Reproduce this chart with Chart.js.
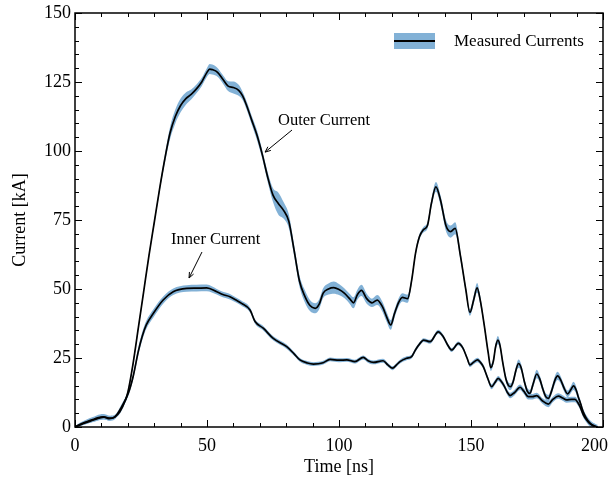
<!DOCTYPE html>
<html>
<head>
<meta charset="utf-8">
<script src="https://cdn.jsdelivr.net/npm/chart.js@4"></script>
<style>
  html, body { margin: 0; padding: 0; background: #fff; }
  #wrap { width: 613px; height: 485px; }
</style>
</head>
<body>
<div id="wrap"><canvas id="currentChart" width="613" height="485"></canvas></div>
<script>
// Outer current: time [ns], value [kA], band half-width [kA]
const outerTime = [
  0, 3, 6, 9, 11, 13, 15, 17, 19, 20,
  22, 24, 26, 28, 30, 32, 34, 36, 38, 40,
  42, 44, 46, 48, 50, 51, 52, 54, 56, 58,
  60, 62, 63.5, 65, 67, 69, 71, 73, 75, 77,
  79, 81, 83, 85, 87, 89, 91, 92.5, 94, 96,
  98, 100, 102, 104, 105.5, 107, 108.5, 110.5, 112.5, 114.5,
  116.5, 118, 119.6, 121, 122.5, 124, 126, 127.5, 129, 130.5,
  132, 133.5, 135, 136.7, 138.5, 140.5, 142.3, 144, 146, 148,
  149.6, 151, 152.3, 153.5, 155, 156.5, 157.5, 158.5, 159.3, 160.2,
  161, 162, 163.2, 164.2, 165, 166, 167, 168, 169, 170.2,
  171.3, 172.3, 173.5, 174.9, 176, 177.3, 178.3, 179.3, 180.5, 181.8,
  182.8, 184, 185.3, 186.6, 187.8, 188.8, 189.8, 190.6, 191.5, 192.5,
  193.5, 195, 197.5];
const outerValue = [
  0, 1.2, 2.2, 3.2, 3.6, 3.0, 3.6, 5.5, 9.5, 12.5,
  23, 36, 49, 62, 74, 86, 97, 106.5, 112.5, 116.5,
  119, 120.5, 122.5, 125, 128.5, 129.7, 129.5, 128.5, 126, 123.5,
  123, 122, 120, 116.5, 111, 105.5, 98.5, 90.5, 84, 81,
  78.5, 74.5, 64, 53, 47.5, 44, 43, 44.5, 48.5, 50,
  50.5, 49.8, 48.5, 46.5, 45, 48, 49.5, 46.5, 45, 46,
  43.5, 40, 37, 41, 45, 47, 46.5, 53, 63, 69,
  71.5, 73, 81, 87, 82, 73, 70.8, 72, 62, 50,
  41.5, 46, 50.4, 46, 37, 27, 21.5, 24, 29, 31.5,
  29.5, 23.5, 17.5, 15, 14.6, 16.5, 20.5, 23, 21.5, 16.5,
  13, 12.2, 15.5, 19.2, 17.5, 13.5, 11, 10.4, 13, 17,
  18.5, 17, 14, 12, 13.5, 14.9, 13.5, 11, 8.5, 5.5,
  3.5, 1.5, 0];
const outerErr = [
  0.3, 0.5, 0.6, 0.7, 0.8, 0.7, 0.6, 0.7, 0.8, 0.8,
  0.8, 0.8, 0.8, 0.8, 0.8, 1, 1.5, 2.2, 2.5, 2.5,
  2.2, 1.8, 1.6, 1.5, 1.6, 1.8, 1.8, 1.6, 1.5, 1.8,
  2.2, 2, 1.5, 1.5, 1.6, 1.8, 1.6, 1.8, 2.5, 4,
  3, 2.5, 2, 2, 2.2, 2, 1.8, 1.8, 1.8, 2,
  2.2, 2, 1.8, 1.8, 2, 1.8, 2, 1.8, 1.5, 1.8,
  1.8, 1.8, 1.8, 1.5, 1.5, 1.5, 1.5, 1.2, 1, 1,
  1, 1.2, 1.5, 1.8, 1.8, 2, 2.2, 2.2, 1.5, 1.2,
  1.2, 1.5, 1.8, 1.5, 1.2, 1.2, 1.2, 1.2, 1.3, 1.5,
  1.3, 1.2, 1.2, 1.2, 1.2, 1.2, 1.3, 1.5, 1.3, 1.2,
  1.2, 1.2, 1.3, 1.5, 1.3, 1.2, 1.2, 1.2, 1.3, 1.5,
  1.5, 1.3, 1.2, 1.2, 1.3, 1.5, 1.3, 1.2, 1, 1,
  1, 1, 0.8];

// Inner current: time [ns], value [kA], band half-width [kA]
const innerTime = [
  0, 2, 4.4, 6.5, 8.2, 10.7, 13.3, 15.2, 17.7, 20.2,
  22, 24, 25.5, 27, 29.7, 33.4, 37.2, 42.3, 46, 49.9,
  53.7, 56, 58.7, 61, 63.1, 66.3, 68.2, 71.3, 75.1, 80.2,
  83, 85.2, 88, 90.3, 94, 96.6, 100, 103, 106, 109.2,
  111, 113, 116.7, 118.5, 120.3, 121.8, 123.1, 125.6, 127.5, 129,
  130.7, 132, 134.5, 137.6, 139.5, 141, 142.7, 145.2, 147, 148.5,
  149.6, 151, 152.5, 153.5, 154.7, 156.2, 157.8, 159, 160.3, 161.5,
  162.5, 163.8, 164.8, 166.5, 168.6, 170, 171.7, 173.3, 174.9, 177,
  179.3, 181, 183.1, 184.7, 186.2, 188, 189.4, 190.5, 191.3, 192.5,
  193.8, 195, 196.3, 198];
const innerValue = [
  0, 1, 1.9, 2.6, 3.2, 3.7, 3.2, 3.7, 7.4, 12.2,
  18.2, 27.5, 33, 37, 41.2, 46, 49, 50.2, 50.3, 50.4,
  49, 48, 47.2, 46, 44.8, 42.4, 38.2, 35.8, 32.1, 29.1,
  26.5, 24.3, 23.2, 22.8, 23.3, 24.5, 24.2, 24.3, 23.7, 25.2,
  24, 23.4, 24, 22.5, 21.3, 22.5, 23.7, 24.9, 25.5, 28,
  30.3, 31.5, 30.9, 34.5, 32.7, 30, 27.9, 30.3, 28.5, 25,
  22.5, 23.5, 24.3, 23.5, 21.8, 18, 14.6, 16, 17.6, 16.5,
  15, 12.5, 11.4, 12.5, 14.4, 13, 11, 11, 11.4, 9.5,
  8.3, 10, 11.2, 10.5, 9.8, 10, 10, 8.8, 7.4, 4.5,
  2.5, 1.2, 0.4, 0];
const innerErr = [
  0.3, 0.6, 0.8, 0.9, 1, 1, 0.9, 0.8, 0.9, 1,
  1.2, 1.5, 1.5, 1.5, 1.5, 1.3, 1.2, 1.2, 1.2, 1.2,
  1, 1, 1, 0.9, 0.9, 0.9, 0.8, 0.8, 0.8, 0.8,
  0.7, 0.7, 0.7, 0.7, 0.7, 0.7, 0.7, 0.7, 0.7, 0.7,
  0.7, 0.7, 0.7, 0.7, 0.7, 0.7, 0.7, 0.7, 0.7, 0.7,
  0.7, 0.7, 0.7, 0.7, 0.7, 0.7, 0.7, 0.7, 0.7, 0.7,
  0.8, 0.8, 0.8, 0.8, 0.8, 0.8, 0.9, 0.9, 0.9, 0.9,
  0.9, 1, 1, 1, 1, 1, 1, 1, 1, 1,
  1.1, 1, 1, 1, 1, 1, 1, 1, 1, 1,
  1, 1, 1, 0.8];

const xTicks = [0, 50, 100, 150, 200];
const yTicks = [0, 25, 50, 75, 100, 125, 150];

const bandColor = '#82b1d6';
const serif = '"Liberation Serif", "DejaVu Serif", serif';

function points(times, values, errs, sign) {
  return times.map((t, i) => ({x: t, y: values[i] + sign * errs[i]}));
}

// Inward ticks on all four sides, the frame and the x tick labels
const frameTicks = {
  id: 'frameTicks',
  afterDraw(chart) {
    const {ctx, chartArea: a, scales: {x, y}} = chart;
    ctx.save();
    ctx.strokeStyle = '#000';
    ctx.lineWidth = 1;
    ctx.beginPath();
    for (let v = 0; v <= 200; v += 10) {
      const px = Math.round(x.getPixelForValue(v)) + 0.5;
      const len = v % 50 === 0 ? 7 : 4;
      ctx.moveTo(px, a.bottom); ctx.lineTo(px, a.bottom - len);
      ctx.moveTo(px, a.top); ctx.lineTo(px, a.top + len);
    }
    for (let v = 0; v <= 150; v += 5) {
      const py = Math.round(y.getPixelForValue(v)) + 0.5;
      const len = v % 25 === 0 ? 7 : 4;
      ctx.moveTo(a.left, py); ctx.lineTo(a.left + len, py);
      ctx.moveTo(a.right, py); ctx.lineTo(a.right - len, py);
    }
    ctx.stroke();
    ctx.lineWidth = 1.5;
    ctx.strokeRect(a.left, a.top, a.right - a.left, a.bottom - a.top);

    // x labels, the last one kept inside the canvas
    ctx.fillStyle = '#000';
    ctx.font = '18px ' + serif;
    ctx.textAlign = 'center';
    ctx.textBaseline = 'middle';
    xTicks.forEach(v => {
      const s = String(v);
      const w = ctx.measureText(s).width;
      const px = Math.min(x.getPixelForValue(v), chart.width - 5 - w / 2);
      ctx.fillText(s, px, a.bottom + 19);
    });
    ctx.restore();
  }
};

// Legend box and arrow annotations
const notes = {
  id: 'notes',
  afterDraw(chart) {
    const {ctx, chartArea: a, scales: {x, y}} = chart;
    ctx.save();
    const lx = a.right - 209, ly = a.top + 28;
    ctx.fillStyle = bandColor;
    ctx.fillRect(lx, ly - 8, 41, 16);
    ctx.strokeStyle = '#000';
    ctx.lineWidth = 2;
    ctx.beginPath();
    ctx.moveTo(lx, ly); ctx.lineTo(lx + 41, ly);
    ctx.stroke();
    ctx.fillStyle = '#000';
    ctx.font = '17px ' + serif;
    ctx.textBaseline = 'middle';
    ctx.fillText('Measured Currents', lx + 60, ly + 1);

    function arrow(x1, y1, x2, y2) {
      const p1 = [x.getPixelForValue(x1), y.getPixelForValue(y1)];
      const p2 = [x.getPixelForValue(x2), y.getPixelForValue(y2)];
      const ang = Math.atan2(p2[1] - p1[1], p2[0] - p1[0]);
      ctx.lineWidth = 1;
      ctx.beginPath();
      ctx.moveTo(p1[0], p1[1]); ctx.lineTo(p2[0], p2[1]);
      ctx.stroke();
      ctx.beginPath();
      ctx.moveTo(p2[0] - 6 * Math.cos(ang - 0.4), p2[1] - 6 * Math.sin(ang - 0.4));
      ctx.lineTo(p2[0], p2[1]);
      ctx.lineTo(p2[0] - 6 * Math.cos(ang + 0.4), p2[1] - 6 * Math.sin(ang + 0.4));
      ctx.stroke();
    }
    ctx.font = '16.5px ' + serif;
    ctx.fillText('Outer Current', x.getPixelForValue(76.9), y.getPixelForValue(110.9));
    arrow(82.2, 107.6, 72, 99.6);
    ctx.fillText('Inner Current', x.getPixelForValue(36.4), y.getPixelForValue(67.8));
    arrow(48.1, 63.4, 43.2, 54);
    ctx.restore();
  }
};

function noPad(scale) {
  scale.paddingLeft = 0;
  scale.paddingRight = 0;
  scale.paddingTop = 0;
  scale.paddingBottom = 0;
}

const ctx = document.getElementById('currentChart').getContext('2d');

new Chart(ctx, {
  type: 'line',
  data: {
    datasets: [
      {
        label: 'Outer Current',
        data: points(outerTime, outerValue, outerErr, 0),
        borderColor: '#000', borderWidth: 1.7, pointRadius: 0,
        cubicInterpolationMode: 'monotone', fill: false, order: 0
      },
      {
        label: 'Inner Current',
        data: points(innerTime, innerValue, innerErr, 0),
        borderColor: '#000', borderWidth: 1.7, pointRadius: 0,
        cubicInterpolationMode: 'monotone', fill: false, order: 0
      },
      {
        label: 'outer upper',
        data: points(outerTime, outerValue, outerErr, 1),
        borderWidth: 0, borderColor: 'rgba(0,0,0,0)', pointRadius: 0,
        cubicInterpolationMode: 'monotone', fill: false, order: 1
      },
      {
        label: 'outer lower',
        data: points(outerTime, outerValue, outerErr, -1),
        borderWidth: 0, borderColor: 'rgba(0,0,0,0)', pointRadius: 0,
        cubicInterpolationMode: 'monotone', fill: '-1', backgroundColor: bandColor, order: 1
      },
      {
        label: 'inner upper',
        data: points(innerTime, innerValue, innerErr, 1),
        borderWidth: 0, borderColor: 'rgba(0,0,0,0)', pointRadius: 0,
        cubicInterpolationMode: 'monotone', fill: false, order: 1
      },
      {
        label: 'inner lower',
        data: points(innerTime, innerValue, innerErr, -1),
        borderWidth: 0, borderColor: 'rgba(0,0,0,0)', pointRadius: 0,
        cubicInterpolationMode: 'monotone', fill: '-1', backgroundColor: bandColor, order: 1
      }
    ]
  },
  options: {
    responsive: false,
    animation: false,
    events: [],
    layout: { padding: { top: 13, right: 10, left: 0, bottom: 0 } },
    plugins: {
      legend: { display: false },
      tooltip: { enabled: false }
    },
    scales: {
      x: {
        type: 'linear',
        min: 0, max: 200,
        grid: { display: false, drawTicks: false },
        border: { display: false },
        afterBuildTicks: (scale) => { scale.ticks = xTicks.map(v => ({value: v})); },
        afterFit: (scale) => { scale.height = 58; noPad(scale); },
        ticks: { display: false },
        title: { display: true, text: 'Time [ns]', color: '#000', font: { family: serif, size: 18 }, padding: { bottom: 7 } }
      },
      y: {
        min: 0, max: 150,
        grid: { display: false, drawTicks: false },
        border: { display: false },
        afterBuildTicks: (scale) => { scale.ticks = yTicks.map(v => ({value: v})); },
        afterFit: (scale) => { scale.width = 75; noPad(scale); },
        ticks: { color: '#000', padding: 4, font: { family: serif, size: 18 } },
        title: { display: true, text: 'Current [kA]', color: '#000', font: { family: serif, size: 18 }, padding: { top: 9 } }
      }
    }
  },
  plugins: [frameTicks, notes]
});
</script>
</body>
</html>
